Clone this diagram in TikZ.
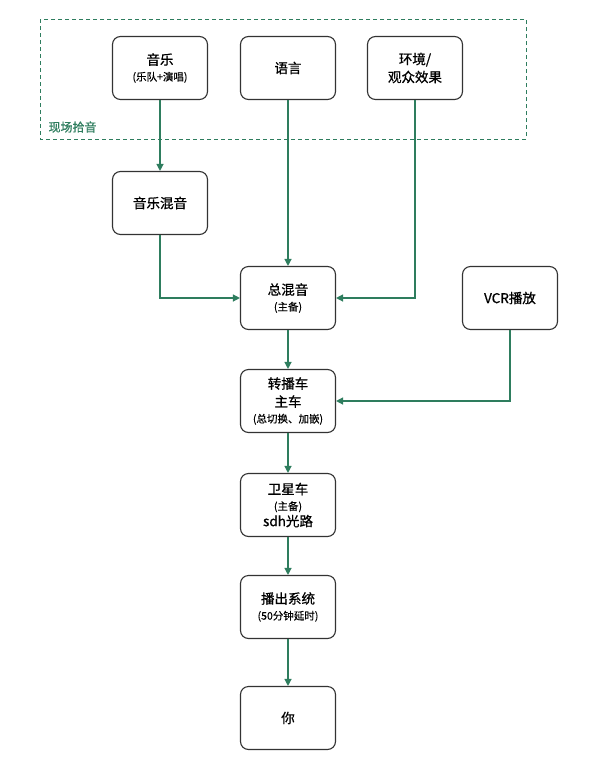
\documentclass[tikz,border=0pt]{standalone}
\usepackage{fontspec}
\setmainfont{Noto Sans CJK SC}[FakeBold=0.8,AutoFakeBold=0.8]
\newfontfamily\medfont{Noto Sans CJK SC}[FakeBold=0.8]
\newfontfamily\smfont{Noto Sans CJK SC}[FakeBold=0.4]
\usetikzlibrary{arrows.meta}
\definecolor{lg}{HTML}{2E7D5E}
\definecolor{bx}{HTML}{333333}
\tikzset{
  box/.style={draw=bx, line width=1.1pt, rounded corners=8pt, minimum width=95pt, minimum height=63pt, align=center, inner sep=2pt, font=\medfont\fontsize{13.5}{18}\selectfont},
  conn/.style={draw=lg, line width=1.2pt, -{Triangle[length=7pt,width=7pt]}}
}
\newcommand{\smtxt}[1]{{\smfont\fontsize{10.5}{12}\selectfont #1}}
\begin{document}
\begin{tikzpicture}[x=1pt,y=-1pt]
\useasboundingbox[fill=white] (0,0) rectangle (600,780);
\draw[lg, line width=0.9pt, dash pattern=on 4pt off 3pt] (40,19) rectangle (526,139);
\node[anchor=west, text=lg, font=\medfont\fontsize{12}{14}\selectfont] (lbl) at (45,127) {现场拾音};
\node[box] (music) at (160,68) {音乐\\[-2pt]\smtxt{(乐队+演唱)}};
\node[box] (lang) at (288,68) {语言};
\node[box] (env) at (415,68) {环境/\\观众效果};
\node[box] (mmix) at (160,203) {音乐混音};
\node[box] (tmix) at (288,298) {总混音\\[-2pt]\smtxt{(主备)}};
\node[box] (vcr) at (510,298) {VCR播放};
\node[box] (obv) at (288,401) {转播车\\主车\\[-2pt]\smtxt{(总切换、加嵌)}};
\node[box] (sat) at (288,505) {卫星车\\[-2pt]\smtxt{(主备)}\\[-2pt]sdh光路};
\node[box] (play) at (288,607) {播出系统\\[-2pt]\smtxt{(50分钟延时)}};
\node[box] (you) at (288,718) {你};
\draw[conn] (music) -- (mmix);
\draw[conn] (lang) -- (tmix);
\draw[conn] (env.south) |- (tmix.east);
\draw[conn] (mmix.south) |- (tmix.west);
\draw[conn] (tmix) -- (obv);
\draw[conn] (vcr.south) |- (obv.east);
\draw[conn] (obv) -- (sat);
\draw[conn] (sat) -- (play);
\draw[conn] (play) -- (you);
\end{tikzpicture}
\end{document}
